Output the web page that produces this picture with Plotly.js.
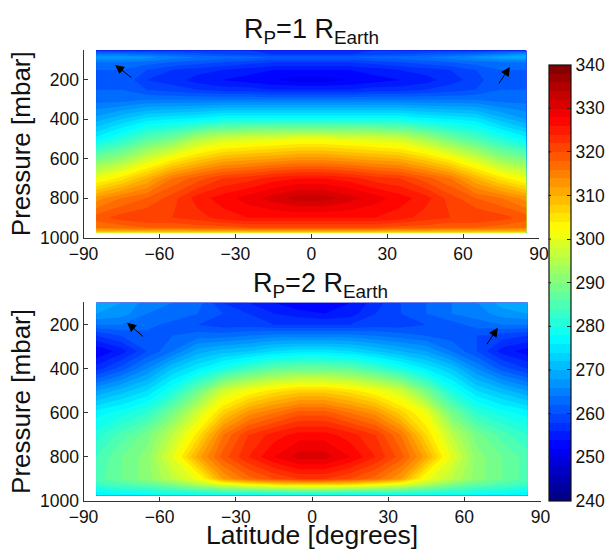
<!DOCTYPE html>
<html><head><meta charset="utf-8">
<script src="https://cdn.plot.ly/plotly-3.0.1.min.js"></script>
<style>html,body{margin:0;padding:0;background:#fff}</style></head>
<body><div id="chart" style="width:605px;height:550px"></div>
<script>
const lat = [-85,-75,-65,-55,-45,-35,-25,-15,-5,5,15,25,35,45,55,65,75,85];
const presTop = [50,70,85,110,150,200,250,300,400,500,600,700,800,900,950,975];
const tempTop = [
 [259,258,258,258,258,258,258,257,257,257,257,258,258,258,258,258,259,259],
 [264,264,263,262,261,260,259,258,258,258,258,259,260,261,262,263,265,267],
 [268,268,267,265,264,263,263,262,262,262,262,263,263,264,265,267,269,270],
 [264,264,263,262,261,260,259,258,258,258,258,259,260,261,262,263,264,264],
 [262,262,260,258,257,256,255,254,254,254,254,255,256,257,258,260,262,262],
 [262,262,258,257,255,254,253,252,251,251,252,253,254,255,257,259,262,262],
 [262,262,260,259,258,257,257,256,256,256,256,257,257,258,259,260,262,262],
 [263,263,264,264,264,264,264,264,264,264,264,264,264,264,264,264,263,263],
 [269,272,275,276,277,279,279,279,279,279,279,279,279,277,276,275,271,268],
 [277,281,286,289,295,298,299,300,301,301,300,299,298,294,289,285,281,277],
 [289,292,298,303,307,310,311,312,313,313,312,311,310,307,303,298,292,289],
 [301,305,310,316,319,322,323,325,326,326,325,323,322,319,316,310,305,301],
 [313,316,318,321,325,327,329,331,333,333,331,329,327,325,321,318,316,313],
 [319,321,322,322,323,325,326,326,326,326,326,326,325,323,322,322,321,319],
 [316,317,318,318,319,319,320,320,320,320,320,320,319,319,318,318,317,316],
 [307,307,307,307,307,307,307,307,307,307,307,307,307,307,307,307,307,307]
];
const presBot = [100,150,200,250,320,400,500,600,700,800,900,925,950,975];
const tempBot = [
 [270,268,265,264,263,258,256,254,252,252,254,257,260,262,264,266,269,270],
 [268,267,264,264,262,260,258,256,255,254,255,258,260,262,264,265,267,268],
 [264,264,263,261,260,259,259,258,258,258,258,259,259,260,261,263,264,264],
 [258,260,261,262,263,263,264,265,265,265,265,264,263,262,261,260,259,258],
 [252,255,260,264,269,271,272,274,275,275,274,272,270,268,264,260,255,253],
 [257,261,266,272,276,280,284,287,288,288,287,284,280,276,272,266,261,258],
 [268,271,274,280,288,298,302,305,307,307,305,302,298,289,280,274,271,268],
 [277,279,282,289,298,307,313,316,319,319,316,313,307,301,289,282,279,277],
 [281,285,289,296,305,316,322,325,327,327,325,322,316,306,296,289,285,282],
 [284,288,291,300,311,319,324,328,331,331,328,324,319,311,300,291,288,285],
 [285,288,291,296,301,312,317,320,322,322,320,317,312,301,296,291,288,285],
 [283,285,287,290,295,300,303,306,307,307,306,303,300,295,290,287,285,283],
 [279,281,282,284,286,288,289,290,291,291,290,289,288,286,284,282,281,279],
 [276,277,277,277,277,277,277,277,277,277,277,277,277,277,277,277,277,276]
];
const jet = [[0,'#00007f'],[0.125,'#0000ff'],[0.375,'#00ffff'],[0.625,'#ffff00'],[0.875,'#ff0000'],[1,'#7f0000']];
const xTicks = [-90,-60,-30,0,30,60,90];
const yTicks = [200,400,600,800,1000];
const cbTicks = [240,250,260,270,280,290,300,310,320,330,340];
const W=605,H=550;
const ink='#333';
const cbTop=64.7,cbBot=500.7,cbL=548.5;
function xa(extra){return Object.assign({range:[-90,90],tickvals:xTicks,ticks:'inside',ticklen:4,tickcolor:ink,linecolor:ink,linewidth:1,showline:true,showgrid:false,zeroline:false,tickfont:{family:'Liberation Sans',size:17.5,color:'#111'}},extra)}
function ya(extra){return Object.assign({tickvals:yTicks,ticks:'inside',ticklen:4,tickcolor:ink,linecolor:ink,linewidth:1,showline:true,showgrid:false,zeroline:false,tickfont:{family:'Liberation Sans',size:17.5,color:'#111'},title:{text:'Pressure [mbar]',font:{family:'Liberation Sans',size:26,color:'#111'},standoff:1}},extra)}
const common={type:'contour',autocontour:false,contours:{coloring:'fill',start:240,end:340,size:2,showlines:false},line:{width:0,smoothing:0},colorscale:jet,zmin:240,zmax:340,hoverinfo:'skip'};
const data=[
 Object.assign({},common,{x:lat,y:presTop,z:tempTop,xaxis:'x',yaxis:'y',showscale:true,
  colorbar:{x:cbL/W,xanchor:'left',y:1-cbBot/H,yanchor:'bottom',len:cbBot-cbTop,lenmode:'pixels',thickness:22,thicknessmode:'pixels',xpad:0,ypad:0,outlinecolor:'#111',outlinewidth:1.2,tickvals:cbTicks,ticks:'inside',ticklen:4,tickcolor:'#222',tickfont:{family:'Liberation Sans',size:17.5,color:'#111'}}}),
 Object.assign({},common,{x:lat,y:presBot,z:tempBot,xaxis:'x2',yaxis:'y2',showscale:false})
];
function arrow(tx,ty,hx,hy,xax,yax){return {x:hx,y:hy,ax:tx,ay:ty,xref:xax,yref:yax,axref:xax,ayref:yax,showarrow:true,arrowhead:2,arrowsize:1.8,arrowwidth:1,arrowcolor:'#000',text:''}}
const cbLeftTicks=cbTicks.slice(1,-1).map(v=>{const py=cbBot-(v-240)/100*(cbBot-cbTop);return {xref:'paper',yref:'paper',x:cbL/W,y:1-py/H,ax:4,ay:0,axref:'pixel',ayref:'pixel',showarrow:true,arrowhead:0,arrowwidth:1,arrowcolor:'#222',text:''}});
const titleFont={family:'Liberation Sans',size:27,color:'#111'};
const layout={width:W,height:H,margin:{l:0,r:0,t:0,b:0,autoexpand:false},paper_bgcolor:'#fff',plot_bgcolor:'#fff',showlegend:false,
 xaxis:xa({domain:[83.5/W,539/W],anchor:'y'}),
 yaxis:ya({domain:[1-237.5/H,1-50/H],range:[1000,48],anchor:'x'}),
 xaxis2:xa({domain:[83.5/W,540.5/W],anchor:'y2',title:{text:'Latitude [degrees]',font:{family:'Liberation Sans',size:26.5,color:'#111'},standoff:1}}),
 yaxis2:ya({domain:[1-501/H,1-302/H],range:[1000,97],anchor:'x2'}),
 annotations:[
  {x:311/W,y:1-31/H,xref:'paper',yref:'paper',xanchor:'center',yanchor:'middle',showarrow:false,text:'R<sub>P</sub>=1 R<sub>Earth</sub>',font:titleFont},
  {x:320/W,y:1-285/H,xref:'paper',yref:'paper',xanchor:'center',yanchor:'middle',showarrow:false,text:'R<sub>P</sub>=2 R<sub>Earth</sub>',font:titleFont},
  arrow(-70.4,195,-77.5,124,'x','y'),
  arrow(73.8,225,78.5,134,'x','y'),
  arrow(-66,259,-72.8,191,'x2','y2'),
  arrow(68.5,295,73.2,214,'x2','y2')
].concat(cbLeftTicks)};
Plotly.newPlot('chart',data,layout,{displayModeBar:false,staticPlot:true});
</script></body></html>
